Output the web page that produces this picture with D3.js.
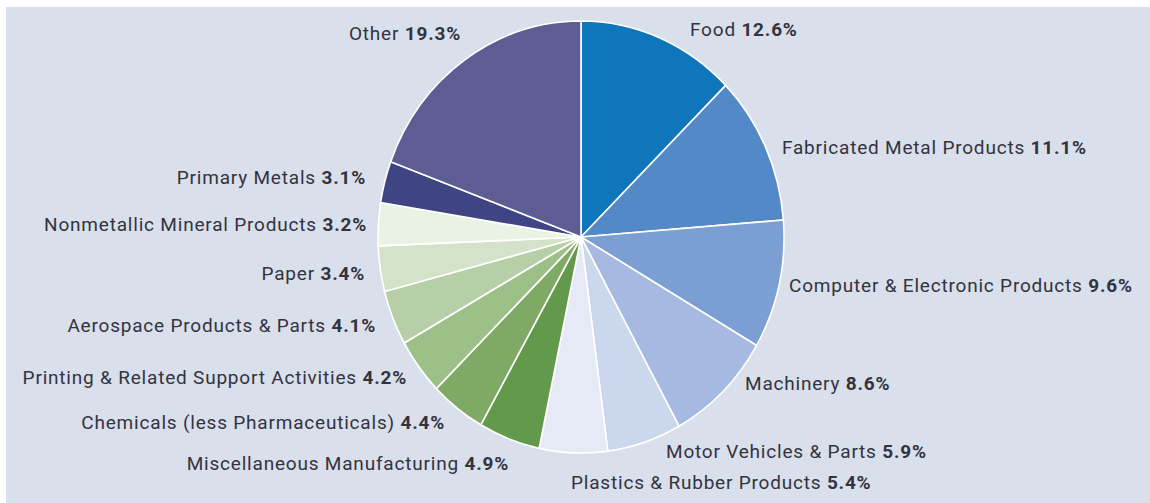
<!DOCTYPE html>
<html>
<head>
<meta charset="utf-8">
<script src="https://cdn.jsdelivr.net/npm/d3@7"></script>
<style>
  body { margin: 0; background: #fff; }
  svg text { font-family: Roboto, "Open Sans", sans-serif; fill: #33333f; }
</style>
</head>
<body>
<div id="chart"></div>
<script>
// shares of manufacturing, clockwise from 12 o'clock
var categories = [
  "Food", "Fabricated Metal Products", "Computer & Electronic Products",
  "Machinery", "Motor Vehicles & Parts", "Plastics & Rubber Products",
  "Miscellaneous Manufacturing", "Chemicals (less Pharmaceuticals)",
  "Printing & Related Support Activities", "Aerospace Products & Parts",
  "Paper", "Nonmetallic Mineral Products", "Primary Metals", "Other"
];
var shares = [12.6, 11.1, 9.6, 8.6, 5.9, 5.4, 4.9, 4.4, 4.2, 4.1, 3.4, 3.2, 3.1, 19.3];
var valueLabels = ["12.6%", "11.1%", "9.6%", "8.6%", "5.9%", "5.4%", "4.9%", "4.4%", "4.2%", "4.1%", "3.4%", "3.2%", "3.1%", "19.3%"];

var colors = ["#1076bb", "#5389c6", "#7b9ed3", "#a6b9e0", "#cbd7ec", "#e6eaf6",
  "#62994a", "#7faa66", "#9dbf88", "#b7cfa6", "#d3e2c8", "#eaf2e4", "#3f4583", "#5d5d94"];

// label anchor points (layout only)
var labelPos = [
  [690, 36, "start"], [782, 154, "start"], [789, 292, "start"],
  [745, 390, "start"], [666, 458, "start"], [571, 489, "start"],
  [509, 470, "end"], [445, 429, "end"], [407, 384, "end"],
  [376, 332, "end"], [365, 280, "end"], [367, 231, "end"],
  [366, 184, "end"], [461, 40, "end"]
];

var svgWidth = 1150, svgHeight = 503;
var cx = 581, cy = 237, rx = 203, ry = 216;

var svg = d3.select("#chart").append("svg")
  .attr("width", svgWidth)
  .attr("height", svgHeight);

svg.append("rect")
  .attr("x", 6).attr("y", 7)
  .attr("width", svgWidth - 6).attr("height", svgHeight - 7)
  .attr("fill", "#d9dfeb");

var data = categories.map(function(c, i) {
  return { name: c, value: shares[i], label: valueLabels[i], color: colors[i], pos: labelPos[i] };
});

var pie = d3.pie().sort(null).value(function(d) { return d.value; });
var arc = d3.arc().innerRadius(0).outerRadius(rx);

var pieGroup = svg.append("g")
  .attr("transform", "translate(" + cx + "," + cy + ") scale(1," + (ry / rx) + ")");

pieGroup.selectAll("path")
  .data(pie(data))
  .enter()
  .append("path")
  .attr("d", arc)
  .attr("fill", function(d) { return d.data.color; })
  .attr("stroke", "#fff")
  .attr("stroke-width", 1.6)
  .attr("stroke-linejoin", "round");

var labels = svg.append("g").selectAll("text")
  .data(data)
  .enter()
  .append("text")
  .attr("x", function(d) { return d.pos[0]; })
  .attr("y", function(d) { return d.pos[1]; })
  .attr("text-anchor", function(d) { return d.pos[2]; })
  .style("font-size", "19px")
  .style("letter-spacing", "0.8px");

labels.append("tspan").text(function(d) { return d.name + " "; });
labels.append("tspan")
  .attr("font-weight", "bold")
  .text(function(d) { return d.label; });
</script>
</body>
</html>
